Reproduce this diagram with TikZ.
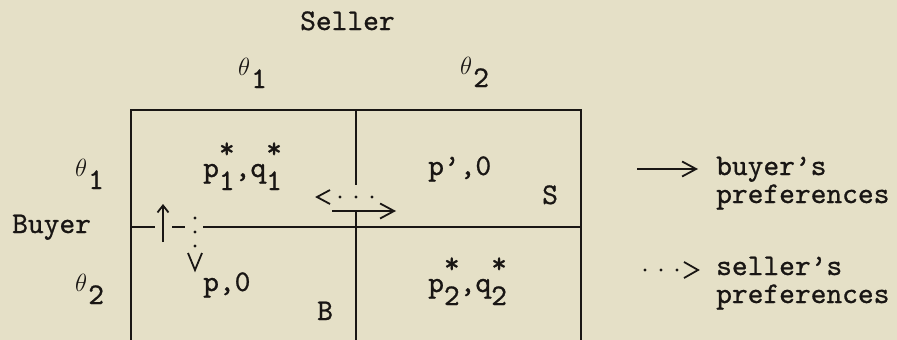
\documentclass[tikz,border=0pt]{standalone}
\usepackage{fontspec}
\newfontfamily\twfont{lmmono10-regular.otf}[FakeBold=0.8]
\usetikzlibrary{arrows.meta}
\definecolor{paper}{RGB}{229,224,199}
\definecolor{ink}{RGB}{25,22,20}
\newcommand\tw{\twfont\fontsize{30}{36}\selectfont}
\newcommand\thl{\fontsize{24.88}{28}\selectfont}
\newcommand\pstar[2]{#1\rlap{\raisebox{-13pt}{#2}}\raisebox{19pt}{*}}
\newcommand\thlab[1]{\raisebox{13pt}{\thl$\theta$}\kern1pt#1}
\begin{document}
\begin{tikzpicture}[x=1pt,y=-1pt,
  every node/.style={inner sep=0pt, anchor=base west, text=ink, font=\tw},
  gridline/.style={draw=ink, line width=2pt},
  buyarrow/.style={draw=ink, line width=1.8pt, -{Straight Barb[length=14pt,width=15pt,line width=1.8pt]}},
  uparrow/.style={draw=ink, line width=1.8pt, -{Straight Barb[length=7pt,width=11pt,line width=1.8pt]}},
  chev/.style={draw=ink, line width=1.8pt},
  dot/.style={fill=ink}]
\fill[paper] (0,0) rectangle (897,340);
\useasboundingbox (0,0) rectangle (897,340);

% labels
\node (seller) at (300,30) {Seller};
\node (ct1) at (238,88) {\thlab{1}};
\node (ct2) at (460,87) {\thlab{2}};
\node (rt1) at (75,189) {\thlab{1}};
\node (rt2) at (75,304) {\thlab{2}};
\node (buyer) at (12,233) {Buyer};

% cell contents
\node (c11) at (203,177) {\pstar{p}{1},\pstar{q}{1}};
\node (c12) at (428,175) {p’,0};
\node (c21) at (203,291) {p,0};
\node (c22) at (428,292) {\pstar{p}{2},\pstar{q}{2}};
\node (S) at (542,204) {S};
\node (B) at (317,320) {B};

% grid
\coordinate (tl) at (131,110);
\coordinate (tr) at (581,110);
\coordinate (bl) at (131,345);
\coordinate (br) at (581,345);
\draw[gridline] (bl) -- (tl) -- (tr) -- (br);
\coordinate (vt) at (356,110);
\coordinate (vm) at (356,185);
\coordinate (vb1) at (356,212);
\coordinate (vb2) at (356,345);
\draw[gridline] (vt) -- (vm);
\draw[gridline] (vb1) -- (vb2);
\coordinate (h0) at (131,227);
\coordinate (h1) at (155,227);
\coordinate (h2) at (172,227);
\coordinate (h3) at (185,227);
\coordinate (h4) at (203,227);
\coordinate (h5) at (581,227);
\draw[gridline] (h0) -- (h1);
\draw[gridline] (h2) -- (h3);
\draw[gridline] (h4) -- (h5);

% preference arrows in the grid
\coordinate (ua0) at (163,242);
\coordinate (ua1) at (163,204);
\draw[uparrow] (ua0) -- (ua1);
\foreach \y in {218,232,246} \fill[dot] (195,\y) circle (1.7);
\draw[chev] (188,253) -- (195,270) -- (202,253);

\coordinate (ra0) at (332,211);
\coordinate (ra1) at (396,211);
\draw[buyarrow] (ra0) -- (ra1);
\foreach \x in {340,356,372} \fill[dot] (\x,197) circle (1.7);
\draw[chev] (330,190) -- (317,197) -- (330,204);

% legend
\coordinate (l1a) at (637,169);
\coordinate (l1b) at (698,169);
\draw[buyarrow] (l1a) -- (l1b);
\node (lb1) at (716,175) {buyer’s};
\node (lb2) at (716,203) {preferences};
\foreach \x in {645,661,677} \fill[dot] (\x,270) circle (1.7);
\draw[chev] (684,262) -- (698,270) -- (684,278);
\node (ls1) at (716,275) {seller’s};
\node (ls2) at (716,303) {preferences};
\end{tikzpicture}
\end{document}
